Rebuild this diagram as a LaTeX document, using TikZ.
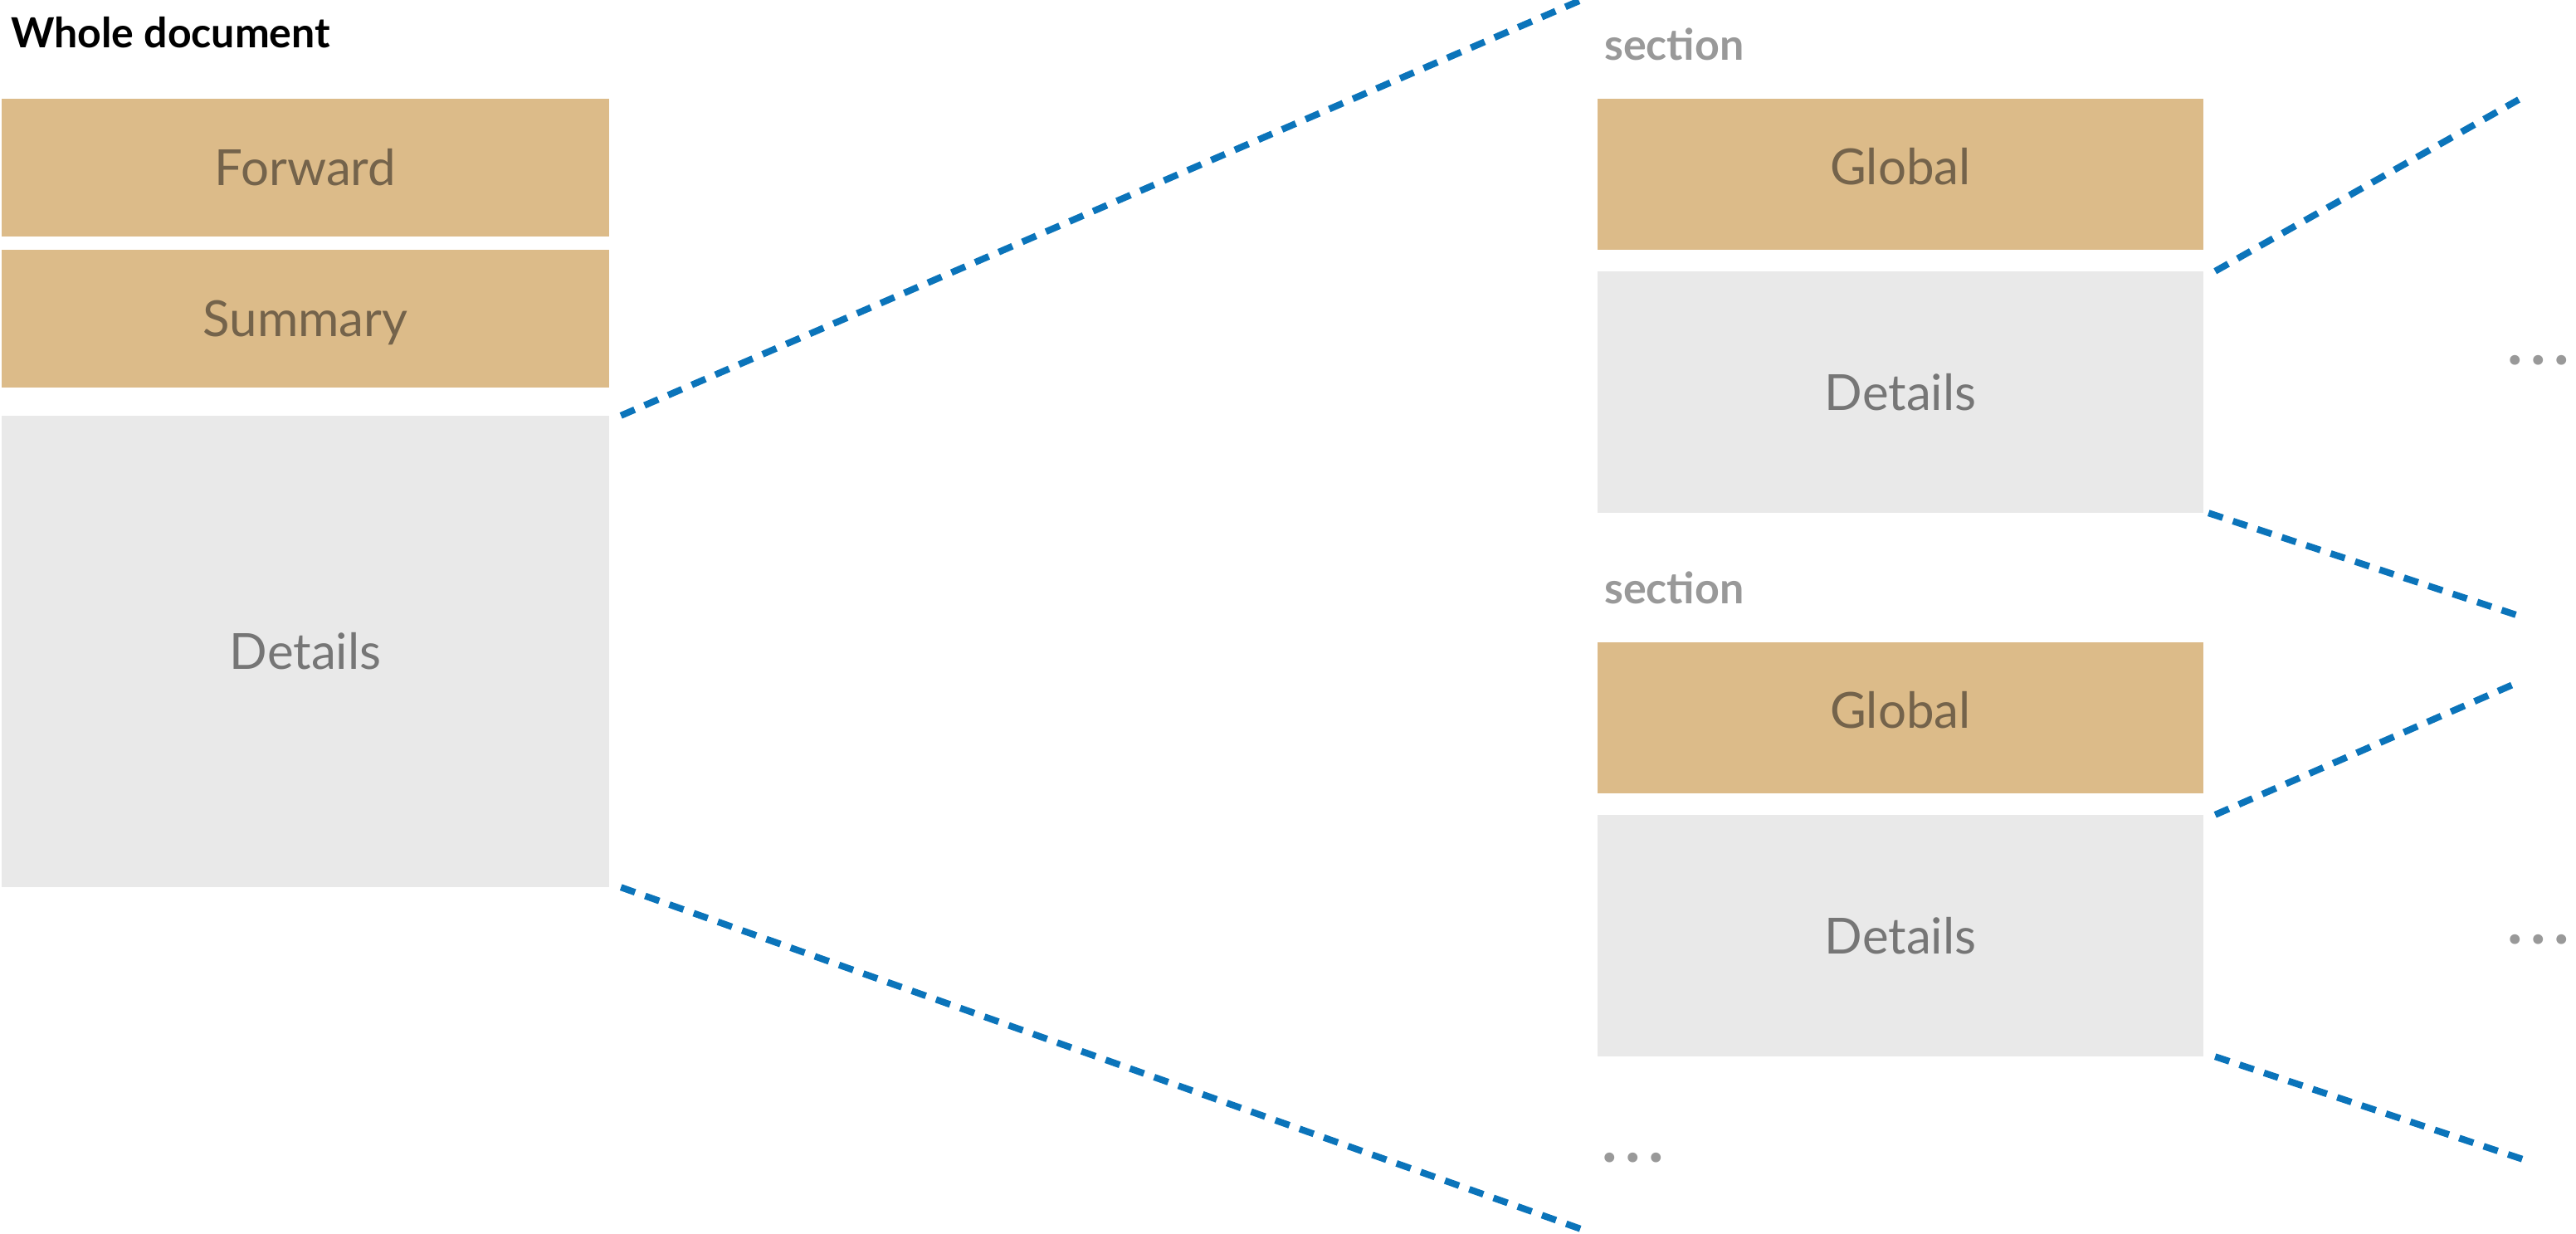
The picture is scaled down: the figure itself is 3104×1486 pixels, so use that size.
\documentclass[tikz,border=0pt]{standalone}
\usepackage{fontspec}
\setmainfont{Lato}
\usepackage{tikz}

\definecolor{boxtan}{HTML}{DCBB89}
\definecolor{tantext}{HTML}{74634B}
\definecolor{boxgray}{HTML}{E9E9E9}
\definecolor{graytext}{HTML}{767676}
\definecolor{labelgray}{HTML}{999999}
\definecolor{zoomblue}{HTML}{0B74BA}

\tikzset{
  part/.style={inner sep=0pt, text height=43pt, text depth=0pt,
    font=\fontsize{60}{72}\selectfont},
  tanpart/.style={part, fill=boxtan, text=tantext},
  graypart/.style={part, fill=boxgray, text=graytext},
  seclabel/.style={anchor=base west, inner sep=0pt, text=labelgray,
    font=\bfseries\fontsize{52}{60}\selectfont},
  more/.style={anchor=base, inner sep=0pt, text=labelgray,
    font=\bfseries\fontsize{78}{90}\selectfont},
  zoomline/.style={draw=zoomblue, line width=8pt, dash pattern=on 18pt off 13pt}
}

\newcommand{\moredots}{\makebox[28pt]{.}\makebox[28pt]{.}\makebox[28pt]{.}}

\begin{document}
\begin{tikzpicture}[x=1pt, y=-1pt]
    \useasboundingbox (0,0) rectangle (3104,1486);

    % whole document
    \node[anchor=base west, inner sep=0pt, font=\bfseries\fontsize{50}{60}\selectfont] (title) at (13,57) {Whole document};
    \node[tanpart, minimum width=732pt, minimum height=166pt] (fwd) at (368,202) {Forward};
    \node[tanpart, minimum width=732pt, minimum height=166pt] (sum) at (368,384) {Summary};
    \node[graypart, minimum width=732pt, minimum height=568pt] (det) at (368,785) {Details};

    % sections
    \node[seclabel] (secA) at (1933,72) {section};
    \node[tanpart, text depth=18pt, minimum width=730pt, minimum height=182pt] (globA) at (2290,210) {Global};
    \node[graypart, minimum width=730pt, minimum height=291pt] (detA) at (2290,472.5) {Details};
    \node[seclabel] (secB) at (1933,727) {section};
    \node[tanpart, text depth=18pt, minimum width=730pt, minimum height=182pt] (globB) at (2290,865) {Global};
    \node[graypart, minimum width=730pt, minimum height=291pt] (detB) at (2290,1127.5) {Details};
    \node[more] (moreC) at (1968,1400) {\moredots};

    \node[more] (moreA) at (3059,439) {\moredots};
    \node[more] (moreB) at (3059,1137) {\moredots};

    % zoom lines
    \coordinate (upL) at (1910,-2);
    \coordinate (lowL) at (1905,1481);
    \coordinate (upA) at (3035,120);
    \coordinate (lowA) at (3035,742);
    \coordinate (upB) at (3037,821);
    \coordinate (lowB) at (3049,1400);
    \draw[zoomline] ([xshift=14pt]det.north east) -- (upL);
    \draw[zoomline] ([xshift=14pt]det.south east) -- (lowL);
    \draw[zoomline] ([xshift=14pt]detA.north east) -- (upA);
    \draw[zoomline] ([xshift=6pt]detA.south east) -- (lowA);
    \draw[zoomline] ([xshift=14pt]detB.north east) -- (upB);
    \draw[zoomline] ([xshift=14pt]detB.south east) -- (lowB);
\end{tikzpicture}
\end{document}
